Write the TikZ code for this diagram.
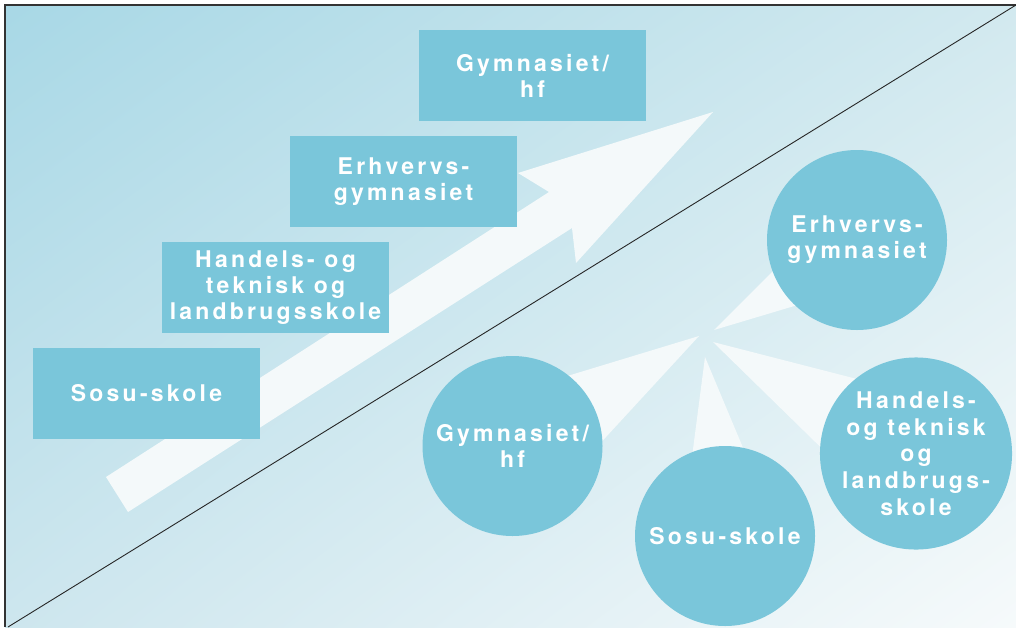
\documentclass[tikz,border=0pt]{standalone}
\usepackage{fontspec}
\usetikzlibrary{shadings}
\newfontfamily\lbl{TeX Gyre Heros}[LetterSpace=14]
\definecolor{boxblue}{HTML}{7AC6DA}
\definecolor{raywhite}{HTML}{F4F9FA}
\definecolor{bgA}{HTML}{A8D8E6}
\definecolor{bgB}{HTML}{D2E9EF}
\definecolor{bgC}{HTML}{CDE6EE}
\definecolor{bgD}{HTML}{F6FAFB}
\definecolor{bordergray}{HTML}{333333}
\begin{document}
\begin{tikzpicture}[x=1pt,y=-1pt,
  lbltext/.style={text=white, font=\lbl\bfseries\fontsize{23}{26}\selectfont, align=center},
  box/.style={lbltext, rectangle, fill=boxblue, minimum width=227pt, minimum height=91pt, inner sep=0pt},
  disc/.style={lbltext, circle, fill=boxblue, minimum size=180pt, inner sep=0pt},
  ray/.style={fill=raywhite},
  frame/.style={draw=bordergray, line width=1.5pt},
  diag/.style={draw=black!85, line width=0.9pt}]
\useasboundingbox (0,0) rectangle (1016,627);
\shade[upper left=bgA, upper right=bgB, lower left=bgC, lower right=bgD] (5,5) rectangle (1016,627);
% frame and diagonal
\coordinate (fb) at (5,627);
\coordinate (fc) at (5,5);
\coordinate (fr) at (1016,5);
\draw[frame] (fb) -- (fc) -- (fr);
\coordinate (dA) at (8,627);
\coordinate (dB) at (1016,5);
\draw[diag] (dA) -- (dB);
% big arrow
\fill[raywhite] (106,477) -- (549,192) -- (518,173) -- (713,112) -- (576,263) -- (572,228) -- (128,512) -- cycle;
% rectangles
\node[box] (r1) at (146.5,393.5) {Sosu-skole};
\node[box] (r2) at (275.5,287.5) {Handels- og\\teknisk og\\landbrugsskole};
\node[box] (r3) at (403.5,181.5) {Erhvervs-\\gymnasiet};
\node[box] (r4) at (532.5,75.5) {Gymnasiet/\\hf};
% rays
\fill[ray] (714,330) -- (801,243) -- (831,295) -- cycle;
\fill[ray] (699,336) -- (541,384) -- (583,462) -- cycle;
\fill[ray] (705,357) -- (689,480) -- (754,474) -- cycle;
\fill[ray] (713,342) -- (892,388) -- (849,475) -- cycle;
% circles
\node[disc] (c1) at (857,240) {Erhvervs-\\gymnasiet};
\node[disc] (c2) at (512.5,446) {Gymnasiet/\\hf};
\node[disc] (c3) at (725,536) {Sosu-skole};
\node[disc, font=\lbl\bfseries\fontsize{23}{26.7}\selectfont] (c4) at (916,453.5) {Handels-\\og teknisk\\og\\landbrugs-\\skole};
\end{tikzpicture}
\end{document}
